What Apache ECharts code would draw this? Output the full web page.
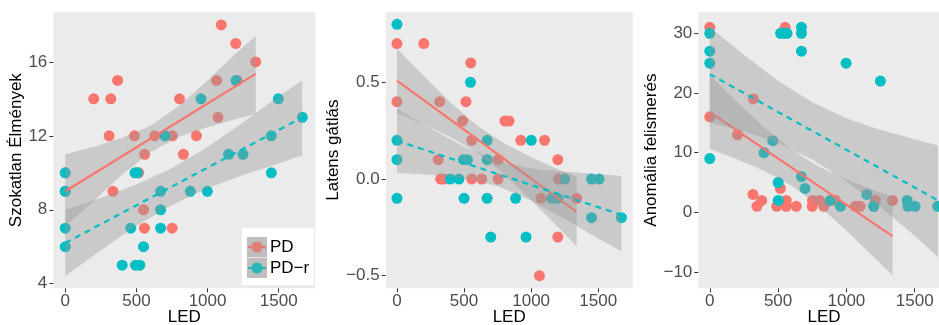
<!DOCTYPE html>
<html>
<head>
<meta charset="utf-8">
<script src="https://cdn.jsdelivr.net/npm/echarts@6/dist/echarts.min.js"></script>
<style>
  html, body { margin: 0; padding: 0; background: #fff; }
  #main { width: 939px; height: 325px; }
</style>
</head>
<body>
<div id="main"></div>
<script>
// points [LED, value] per panel and group
var pd1 = [[0, 10], [0, 9], [200, 14], [308, 12], [320, 14], [335, 9], [368, 15], [486, 12], [516, 10], [550, 8], [558, 11], [556, 7], [628, 12], [752, 12], [751, 7], [803, 14], [830, 11], [922, 12], [1063, 15], [1073, 13], [1096, 18], [1198, 17], [1207, 15], [1338, 16]];
var pdr1 = [[0, 10], [0, 9], [0, 7], [0, 6], [400, 5], [460, 7], [490, 10], [506, 10], [494, 5], [524, 5], [550, 6], [670, 9], [670, 8], [670, 7], [701, 12], [879, 9], [954, 14], [998, 9], [1148, 11], [1200, 15], [1249, 11], [1448, 12], [1448, 10], [1497, 14], [1666, 13]];

var pd2 = [[0, 0.7], [0, 0.4], [200, 0.7], [307, 0.1], [319, 0.4], [326, 0], [350, 0], [489, 0.3], [514, 0.4], [550, 0.6], [557, 0.2], [557, 0], [632, 0], [754, 0.1], [754, 0], [805, 0.3], [835, 0.3], [923, 0.2], [1062, -0.5], [1074, -0.1], [1100, 0.2], [1199, 0.1], [1204, 0], [1199, -0.3], [1339, -0.1]];
var pdr2 = [[0, 0.8], [0, 0.2], [0, 0.1], [0, -0.1], [398, 0], [462, 0], [500, -0.1], [496, 0.1], [525, 0.1], [548, 0.5], [672, 0.2], [672, 0.1], [672, -0.1], [699, -0.3], [884, -0.1], [962, -0.3], [1001, 0.2], [1153, -0.1], [1199, -0.1], [1250, 0], [1450, 0], [1506, 0], [1450, -0.2], [1673, -0.2]];

var pd3 = [[0, 31], [0, 16], [203, 13], [319, 19], [316, 3], [345, 1], [380, 2], [490, 1], [517, 4], [552, 31], [560, 2], [560, 1], [633, 1], [750, 1], [752, 2], [803, 2], [835, 1], [920, 2], [1065, 1], [1080, 1], [1100, 1], [1200, 1], [1212, 2], [1338, 2]];
var pdr3 = [[0, 30], [0, 27], [0, 25], [0, 9], [397, 10], [461, 12], [501, 5], [501, 2], [518, 30], [543, 30], [565, 30], [671, 31], [671, 30], [671, 27], [671, 6], [697, 4], [882, 2], [957, 1], [998, 25], [1150, 3], [1200, 1], [1249, 22], [1445, 2], [1450, 1], [1503, 1], [1668, 1]];

// fitted lines [LED, value]
var fitPD1 = [[0, 9.0], [1338, 15.35]];
var fitPDR1 = [[0, 6.2], [1665, 12.99]];
var fitPD2 = [[0, 0.509], [1339, -0.170]];
var fitPDR2 = [[0, 0.198], [1673, -0.185]];
var fitPD3 = [[0, 16.8], [1338, -4.0]];
var fitPDR3 = [[0, 23.15], [1670, 2.0]];

// confidence bands [LED, lower, upper]
var bandPD1 = [[0, 7.1, 11.0], [200, 8.48, 11.41], [400, 9.91, 11.89], [600, 11.13, 12.55], [800, 11.95, 13.63], [1000, 12.47, 15.0], [1200, 12.91, 16.47], [1338, 13.18, 17.4]];
var bandPDR1 = [[0, 4.4, 8.0], [250, 5.81, 8.63], [500, 7.13, 9.36], [750, 8.26, 10.26], [1000, 9.16, 11.4], [1250, 9.88, 12.73], [1500, 10.5, 14.14], [1665, 10.95, 15.0]];
var bandPD2 = [[0, 0.343, 0.675], [200, 0.283, 0.533], [400, 0.216, 0.396], [600, 0.134, 0.276], [800, 0.024, 0.183], [1000, -0.108, 0.112], [1200, -0.248, 0.05], [1339, -0.349, 0.012]];
var bandPDR2 = [[0, 0.033, 0.363], [250, 0.022, 0.262], [500, 0.003, 0.167], [750, -0.036, 0.094], [1000, -0.111, 0.055], [1250, -0.206, 0.038], [1500, -0.308, 0.026], [1673, -0.373, 0.016]];
var bandPD3 = [[0, 10.6, 23.0], [200, 8.9, 18.48], [400, 6.94, 14.2], [600, 4.44, 10.48], [800, 1.06, 7.64], [1000, -3.05, 5.51], [1200, -7.5, 3.74], [1338, -10.6, 2.6]];
var bandPDR3 = [[0, 15.0, 31.0], [250, 13.58, 26.4], [500, 11.58, 22.06], [750, 8.86, 18.46], [1000, 5.21, 15.77], [1250, 0.86, 13.8], [1500, -3.91, 12.23], [1670, -7.5, 11.2]];

var xTicks = [0, 500, 1000, 1500];
var yTicks1 = [4, 8, 12, 16];
var yTicks2 = [-0.5, 0, 0.5];
var yTicks3 = [-10, 0, 10, 20, 30];
var yTitles = ['Szokatlan Élmények', 'Latens gátlás', 'Anomália felismerés'];

var RED = '#F8766D', TEAL = '#00BFC4';
var FONT = '"Liberation Sans", Arial, sans-serif';

function fmtMinus(v, dec) {
    var s = dec ? v.toFixed(dec) : String(v);
    return s.replace('-', '\u2212');
}

function xAx(i) {
    return {
        gridIndex: i, type: 'value', min: -84, max: 1757,
        splitLine: { show: false }, axisLine: { show: false, onZero: false },
        axisTick: { show: true, customValues: xTicks, length: 4, lineStyle: { color: '#333', width: 1 } },
        axisLabel: {
            customValues: xTicks, color: '#4D4D4D', fontSize: 17, fontFamily: FONT, margin: 5,
            formatter: function (v) { return String(v); }
        },
        name: 'LED', nameLocation: 'middle', nameGap: 21, nameMoveOverlap: false,
        nameTextStyle: { color: '#000', fontSize: 17, fontFamily: FONT }
    };
}

function yAx(i, min, max, ticks, dec, gap) {
    return {
        gridIndex: i, type: 'value', min: min, max: max,
        splitLine: { show: false }, axisLine: { show: false, onZero: false },
        axisTick: { show: true, customValues: ticks, length: 4, lineStyle: { color: '#333', width: 1 } },
        axisLabel: {
            customValues: ticks, color: '#4D4D4D', fontSize: 17, fontFamily: FONT, margin: 6,
            formatter: function (v) { return fmtMinus(v, dec); }
        },
        name: yTitles[i], nameLocation: 'middle', nameGap: gap,
        nameTextStyle: { color: '#000', fontSize: 17, fontFamily: FONT }
    };
}

function scatter(data, i, color) {
    return {
        type: 'scatter', xAxisIndex: i, yAxisIndex: i, data: data, z: 2,
        symbolSize: 11, itemStyle: { color: color, opacity: 1 }, silent: true
    };
}

function band(data, i, z) {
    return {
        type: 'custom', xAxisIndex: i, yAxisIndex: i, data: data, z: z, silent: true,
        encode: { x: 0, y: [1, 2] },
        renderItem: function (params, api) {
            if (params.dataIndex !== 0) return;
            var top = data.map(function (d) { return api.coord([d[0], d[2]]); });
            var bot = data.map(function (d) { return api.coord([d[0], d[1]]); }).reverse();
            return {
                type: 'polygon', shape: { points: top.concat(bot) },
                style: { fill: 'rgba(153,153,153,0.4)' }
            };
        }
    };
}

function fit(data, i, color, dashed, z) {
    return {
        type: 'line', xAxisIndex: i, yAxisIndex: i, data: data, z: z, silent: true,
        showSymbol: false, symbol: 'none',
        lineStyle: { color: color, width: 2.2, type: dashed ? [6, 5] : 'solid' }
    };
}

var gridBase = {
    top: 12, height: 276.3, show: true, backgroundColor: '#EBEBEB', borderWidth: 0,
    containLabel: false, outerBoundsMode: 'none'
};

var chart = echarts.init(document.getElementById('main'), null, { renderer: 'canvas' });
chart.setOption({
    animation: false,
    backgroundColor: '#fff',
    grid: [
        Object.assign({ left: 53.3, width: 262 }, gridBase),
        Object.assign({ left: 385.7, width: 247 }, gridBase),
        Object.assign({ left: 698.3, width: 251.5 }, gridBase)
    ],
    xAxis: [xAx(0), xAx(1), xAx(2)],
    yAxis: [
        yAx(0, 3.75, 18.7, yTicks1, 0, 24),
        yAx(1, -0.565, 0.8635, yTicks2, 1, 39),
        yAx(2, -12.73, 33.57, yTicks3, 0, 31)
    ],
    series: [
        scatter(pd1, 0, RED), scatter(pdr1, 0, TEAL),
        band(bandPD1, 0, 3), fit(fitPD1, 0, RED, false, 4),
        band(bandPDR1, 0, 5), fit(fitPDR1, 0, TEAL, true, 6),

        scatter(pd2, 1, RED), scatter(pdr2, 1, TEAL),
        band(bandPD2, 1, 3), fit(fitPD2, 1, RED, false, 4),
        band(bandPDR2, 1, 5), fit(fitPDR2, 1, TEAL, true, 6),

        scatter(pd3, 2, RED), scatter(pdr3, 2, TEAL),
        band(bandPD3, 2, 3), fit(fitPD3, 2, RED, false, 4),
        band(bandPDR3, 2, 5), fit(fitPDR3, 2, TEAL, true, 6)
    ],
    graphic: [{
        type: 'group', left: 242, top: 228, z: 100,
        children: [
            { type: 'rect', shape: { x: 0, y: 0, width: 72, height: 57 }, style: { fill: '#fff' } },
            { type: 'rect', shape: { x: 5, y: 9, width: 20, height: 20 }, style: { fill: '#CBCBCB' } },
            { type: 'rect', shape: { x: 5, y: 30, width: 20, height: 20 }, style: { fill: '#CBCBCB' } },
            { type: 'line', shape: { x1: 6, y1: 19, x2: 24, y2: 19 }, style: { stroke: RED, lineWidth: 2.2 } },
            { type: 'circle', shape: { cx: 15, cy: 19, r: 5.5 }, style: { fill: RED } },
            { type: 'line', shape: { x1: 6, y1: 40, x2: 24, y2: 40 }, style: { stroke: TEAL, lineWidth: 2.2, lineDash: [4, 3] } },
            { type: 'circle', shape: { cx: 15, cy: 40, r: 5.5 }, style: { fill: TEAL } },
            { type: 'rect', shape: { x: 5, y: 9, width: 20, height: 41 }, style: { fill: 'rgba(153,153,153,0.25)' } },
            { type: 'text', x: 28, y: 19, style: { text: 'PD', fill: '#000', font: '17px ' + FONT, verticalAlign: 'middle' } },
            { type: 'text', x: 28, y: 40, style: { text: 'PD\u2212r', fill: '#000', font: '17px ' + FONT, verticalAlign: 'middle' } }
        ]
    }]
});
</script>
</body>
</html>
